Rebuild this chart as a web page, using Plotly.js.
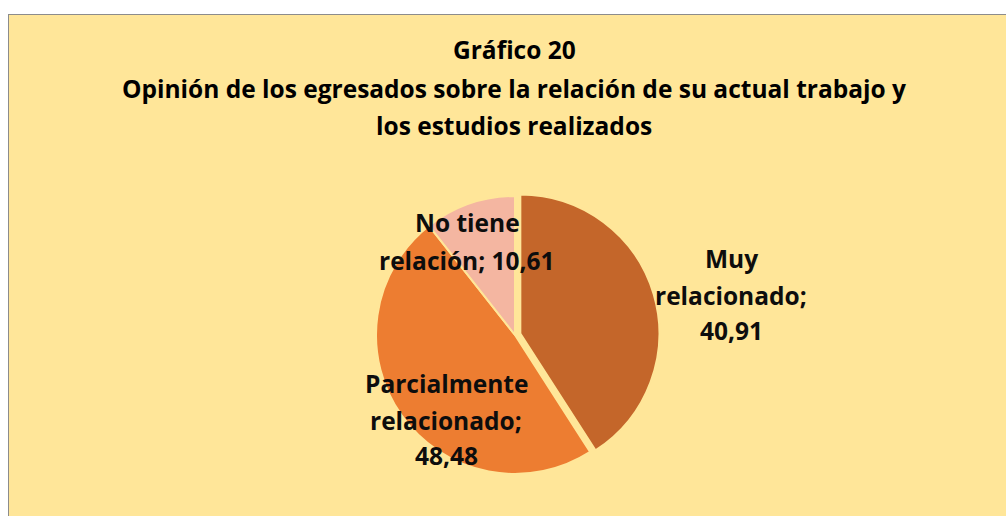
<!DOCTYPE html>
<html><head><meta charset="utf-8">
<script src="https://cdn.plot.ly/plotly-3.0.1.min.js"></script>
<style>
html,body{margin:0;padding:0;background:#fff;width:1006px;height:516px;overflow:hidden}
#frame{position:absolute;left:8px;top:14px;width:1010px;height:515px;border:1px solid #8c8c8c;background:#FFE699;overflow:hidden}
#chart{width:1000px;height:504px}
</style></head>
<body><div id="frame"><div id="chart"></div></div>
<script>
const categories = ["Muy relacionado", "Parcialmente relacionado", "No tiene relación"];
const values = [40.91, 48.48, 10.61];
const valueLabels = ["40,91", "48,48", "10,61"];
const colors = ["#C4662A", "#ED7D31", "#F4B6A1"];
const titleLines = ["Gráfico 20", "Opinión de los egresados sobre la relación de su actual trabajo y", "los estudios realizados"];

const W = 1000, H = 504, OX = 9, OY = 15;
const px = x => (x - OX) / W;
const py = y => 1 - (y - OY) / H;

const FONT = "Open Sans, Noto Sans, sans-serif";
const annotations = [];
const titleY = [50, 88, 125];
titleLines.forEach((t, i) => annotations.push({
  text: "<b>" + t + "</b>", x: px(514), y: py(titleY[i]), xref: "paper", yref: "paper",
  xanchor: "center", yanchor: "middle", showarrow: false,
  font: {family: FONT, size: 24.5, color: "#000"}
}));

// data labels (lines built from categories/values)
const labelSpecs = [
  {lines: ["Muy", "relacionado;", valueLabels[0]], x: 731, ys: [258, 295, 330]},
  {lines: ["Parcialmente", "relacionado;", valueLabels[1]], x: 446, ys: [383, 420, 455]},
  {lines: ["No tiene", "relación; " + valueLabels[2]], x: 467, ys: [222, 260]}
];
labelSpecs.forEach(s => s.lines.forEach((l, i) => annotations.push({
  text: "<b>" + l + "</b>", x: px(s.x), y: py(s.ys[i]), xref: "paper", yref: "paper",
  xanchor: "center", yanchor: "middle", showarrow: false,
  font: {family: FONT, size: 24.5, color: "#0d0d0d"}
})));

const cx = 515, cy = 335, r = 139, pullMax = 0.04;
const R = r * (1 + pullMax);
const trace = {
  type: "pie", labels: categories, values: values, sort: false,
  direction: "clockwise", rotation: 0,
  pull: [pullMax, 0, 0],
  marker: {colors: colors, line: {color: "#FFE699", width: 2}},
  textinfo: "none", hoverinfo: "label+value", showlegend: false,
  domain: {x: [px(cx - R), px(cx + R)], y: [py(cy + R), py(cy - R)]}
};

Plotly.newPlot("chart", [trace], {
  width: W, height: H, margin: {l: 0, r: 0, t: 0, b: 0},
  paper_bgcolor: "#FFE699", plot_bgcolor: "#FFE699",
  annotations: annotations, showlegend: false
}, {displayModeBar: false, staticPlot: true});
</script></body></html>
